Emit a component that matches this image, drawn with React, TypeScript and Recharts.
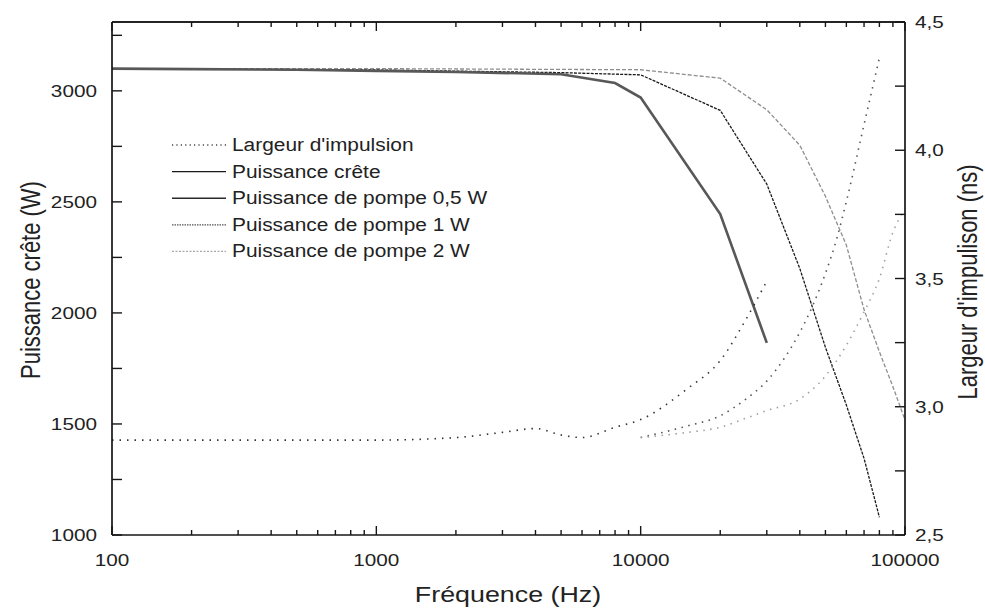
import React from 'react';
import { LineChart, Line, XAxis, YAxis, ReferenceLine } from 'recharts';

// ---------- data ----------
const freqTicks = [100, 200, 300, 400, 500, 600, 700, 800, 900, 1000, 2000, 3000, 4000, 5000, 6000, 7000, 8000, 9000, 10000, 20000, 30000, 40000, 50000, 60000, 70000, 80000, 90000, 100000];
const powerTicks = [1000, 1250, 1500, 1750, 2000, 2250, 2500, 2750, 3000, 3250];
const widthTicks = [2.5, 2.75, 3.0, 3.25, 3.5, 3.75, 4.0, 4.25, 4.5];
const powerDomain = [1000, 3310];
const widthDomain = [2.5, 4.5];
const freqDomain = [100, 100000];

// Peak power (W) vs frequency (Hz)
const freqPump05 = [100, 200, 500, 1000, 2000, 5000, 8000, 10000, 20000, 30000];
const peakPump05 = [3100, 3098, 3095, 3090, 3085, 3075, 3035, 2970, 2445, 1865];

const freqPump1 = [100, 1000, 5000, 10000, 20000, 30000, 40000, 50000, 60000, 70000, 80000];
const peakPump1 = [3100, 3094, 3082, 3072, 2912, 2580, 2200, 1845, 1585, 1345, 1080];

const freqPump2 = [100, 1000, 10000, 20000, 30000, 40000, 50000, 60000, 70000, 80000, 90000, 100000];
const peakPump2 = [3100, 3100, 3095, 3057, 2915, 2755, 2525, 2305, 2015, 1825, 1668, 1518];

// Pulse width (ns) vs frequency (Hz)
const freqWidth05 = [100, 200, 500, 1000, 2000, 3000, 4000, 5000, 6000, 8000, 10000, 15000, 20000, 25000, 30000];
const width05 = [2.87, 2.87, 2.87, 2.87, 2.88, 2.90, 2.915, 2.89, 2.88, 2.92, 2.95, 3.07, 3.18, 3.34, 3.49];

const freqWidth1 = [10000, 15000, 20000, 25000, 30000, 35000, 40000, 45000, 50000, 55000, 60000, 70000, 80000];
const width1 = [2.88, 2.925, 2.965, 3.03, 3.10, 3.19, 3.29, 3.40, 3.52, 3.65, 3.80, 4.10, 4.36];

const freqWidth2 = [10000, 15000, 20000, 25000, 30000, 40000, 50000, 60000, 70000, 80000, 90000, 100000];
const width2 = [2.88, 2.90, 2.92, 2.955, 2.985, 3.03, 3.12, 3.24, 3.37, 3.50, 3.68, 3.77];

const legendLabels = [
  "Largeur d'impulsion",
  'Puissance crête',
  'Puissance de pompe 0,5 W',
  'Puissance de pompe 1 W',
  'Puissance de pompe 2 W',
];

const xTitle = 'Fréquence (Hz)';
const leftTitle = 'Puissance crête (W)';
const rightTitle = "Largeur d'impulison (ns)";

// ---------- helpers ----------
const toPts = (xs: number[], ys: number[]) => xs.map((f, i) => ({ f, v: ys[i] }));
const FONT = "'Liberation Sans', Arial, Helvetica, sans-serif";
const INK = '#161616';
const SX = 1.22;
const PLOT_TOP = 22;
const PLOT_LEFT = 112;

const isDecade = (v: number) => Math.abs(Math.log10(v) - Math.round(Math.log10(v))) < 1e-9;

// Bottom axis tick; also mirrors the tick mark on the top frame edge.
const BottomTick = (props: any) => {
  const { x, y, payload } = props;
  const v = payload.value;
  const major = isDecade(v);
  const len = major ? 9 : 5;
  return (
    <g>
      <line x1={x} x2={x} y1={y} y2={y - len} stroke={INK} strokeWidth={1.4} />
      <line x1={x} x2={x} y1={PLOT_TOP} y2={PLOT_TOP + len} stroke={INK} strokeWidth={1.4} />
      {major && (
        <text transform={`translate(${x},${y + 31}) scale(${SX},1)`} textAnchor="middle" fontSize={17} fill="#222" fontFamily={FONT}>
          {v}
        </text>
      )}
    </g>
  );
};

const LeftTick = (props: any) => {
  const { x, y, payload } = props;
  const v = payload.value;
  const show = v % 500 === 0;
  return (
    <g>
      <line x1={x} x2={x + 10} y1={y} y2={y} stroke={INK} strokeWidth={1.4} />
      {show && (
        <text transform={`translate(${x - 15},${y + 6}) scale(${SX},1)`} textAnchor="end" fontSize={17} fill="#222" fontFamily={FONT}>
          {v}
        </text>
      )}
    </g>
  );
};

// Right axis tick; the top-most tick also closes the frame along the top edge.
const RightTick = (props: any) => {
  const { x, y, payload } = props;
  const v = payload.value;
  const show = Math.abs(v * 2 - Math.round(v * 2)) < 1e-9;
  const isTop = Math.abs(v - widthDomain[1]) < 1e-9;
  return (
    <g>
      {isTop && <line x1={PLOT_LEFT} x2={x} y1={y} y2={y} stroke={INK} strokeWidth={1.7} />}
      <line x1={x} x2={x - 10} y1={y} y2={y} stroke={INK} strokeWidth={1.4} />
      {show && (
        <text transform={`translate(${x + 10},${y + 6}) scale(${SX},1)`} textAnchor="start" fontSize={17} fill="#222" fontFamily={FONT}>
          {v.toFixed(1).replace('.', ',')}
        </text>
      )}
    </g>
  );
};

const AxisTitle = (props: any) => {
  const { tx, ty, rot, text } = props;
  const tr = rot
    ? `translate(${tx},${ty}) scale(${SX},1) rotate(-90)`
    : `translate(${tx},${ty}) scale(${SX},1)`;
  return (
    <text transform={tr} textAnchor="middle" fontSize={22} fill="#222" fontFamily={FONT}>
      {text}
    </text>
  );
};

const legendStyles = [
  { stroke: '#444', dash: '1.2 3.2', w: 1.3 },
  { stroke: '#1a1a1a', dash: undefined, w: 1.1 },
  { stroke: '#2a2a2a', dash: undefined, w: 1.5 },
  { stroke: '#555', dash: '1.5 1', w: 1.2 },
  { stroke: '#a8a8a8', dash: '2 1.5', w: 1.4 },
];

const LegendBox = () => (
  <svg width={340} height={135} style={{ display: 'block' }}>
    {legendLabels.map((lab, i) => {
      const cy = 15 + i * 26.6;
      const st = legendStyles[i];
      return (
        <g key={lab}>
          <line x1={12} x2={66} y1={cy} y2={cy} stroke={st.stroke} strokeWidth={st.w} strokeDasharray={st.dash} />
          <text transform={`translate(72,${cy + 6}) scale(1.16,1)`} fontSize={18} fill="#222" fontFamily={FONT}>
            {lab}
          </text>
        </g>
      );
    })}
  </svg>
);

export default function App() {
  return (
    <div style={{ position: 'absolute', left: 0, top: 0, width: 985, height: 611, background: '#fff' }}>
      <LineChart width={985} height={611} margin={{ top: PLOT_TOP, right: 0, bottom: 0, left: 0 }}>
        <XAxis
          dataKey="f"
          type="number"
          scale="log"
          domain={freqDomain}
          allowDataOverflow
          ticks={freqTicks}
          interval={0}
          height={76}
          tickSize={0}
          tickMargin={0}
          tick={<BottomTick />}
          axisLine={{ stroke: INK, strokeWidth: 1.7 }}
          label={<AxisTitle tx={508} ty={602} rot={false} text={xTitle} />}
        />
        <YAxis
          yAxisId="left"
          orientation="left"
          type="number"
          domain={powerDomain}
          allowDataOverflow
          ticks={powerTicks}
          interval={0}
          width={PLOT_LEFT}
          tickSize={0}
          tickMargin={0}
          tick={<LeftTick />}
          axisLine={{ stroke: INK, strokeWidth: 1.7 }}
          label={<AxisTitle tx={40} ty={280} rot={true} text={leftTitle} />}
        />
        <YAxis
          yAxisId="right"
          orientation="right"
          type="number"
          domain={widthDomain}
          allowDataOverflow
          ticks={widthTicks}
          interval={0}
          width={80}
          tickSize={0}
          tickMargin={0}
          tick={<RightTick />}
          axisLine={{ stroke: INK, strokeWidth: 1.7 }}
          label={<AxisTitle tx={977} ty={282} rot={true} text={rightTitle} />}
        />
        <ReferenceLine yAxisId="left" y={powerDomain[1]} stroke={INK} strokeWidth={1.7} />
        <Line data={toPts(freqPump2, peakPump2)} dataKey="v" yAxisId="left" type="linear" stroke="#8e8e8e" strokeWidth={1.3} strokeDasharray="4 2" dot={false} isAnimationActive={false} />
        <Line data={toPts(freqPump1, peakPump1)} dataKey="v" yAxisId="left" type="linear" stroke="#1a1a1a" strokeWidth={1.3} strokeDasharray="3 1.2" dot={false} isAnimationActive={false} />
        <Line data={toPts(freqPump05, peakPump05)} dataKey="v" yAxisId="left" type="linear" stroke="#585858" strokeWidth={2.6} dot={false} isAnimationActive={false} />
        <Line data={toPts(freqWidth05, width05)} dataKey="v" yAxisId="right" type="monotone" stroke="#333" strokeWidth={1.6} strokeDasharray="1.5 6" dot={false} isAnimationActive={false} />
        <Line data={toPts(freqWidth1, width1)} dataKey="v" yAxisId="right" type="monotone" stroke="#555" strokeWidth={1.6} strokeDasharray="1.5 5.5" dot={false} isAnimationActive={false} />
        <Line data={toPts(freqWidth2, width2)} dataKey="v" yAxisId="right" type="monotone" stroke="#a0a0a0" strokeWidth={1.6} strokeDasharray="1.5 5.5" dot={false} isAnimationActive={false} />
      </LineChart>
      <div style={{ position: 'absolute', left: 160, top: 130, width: 340, height: 135, pointerEvents: 'none' }}>
        <LegendBox />
      </div>
    </div>
  );
}
